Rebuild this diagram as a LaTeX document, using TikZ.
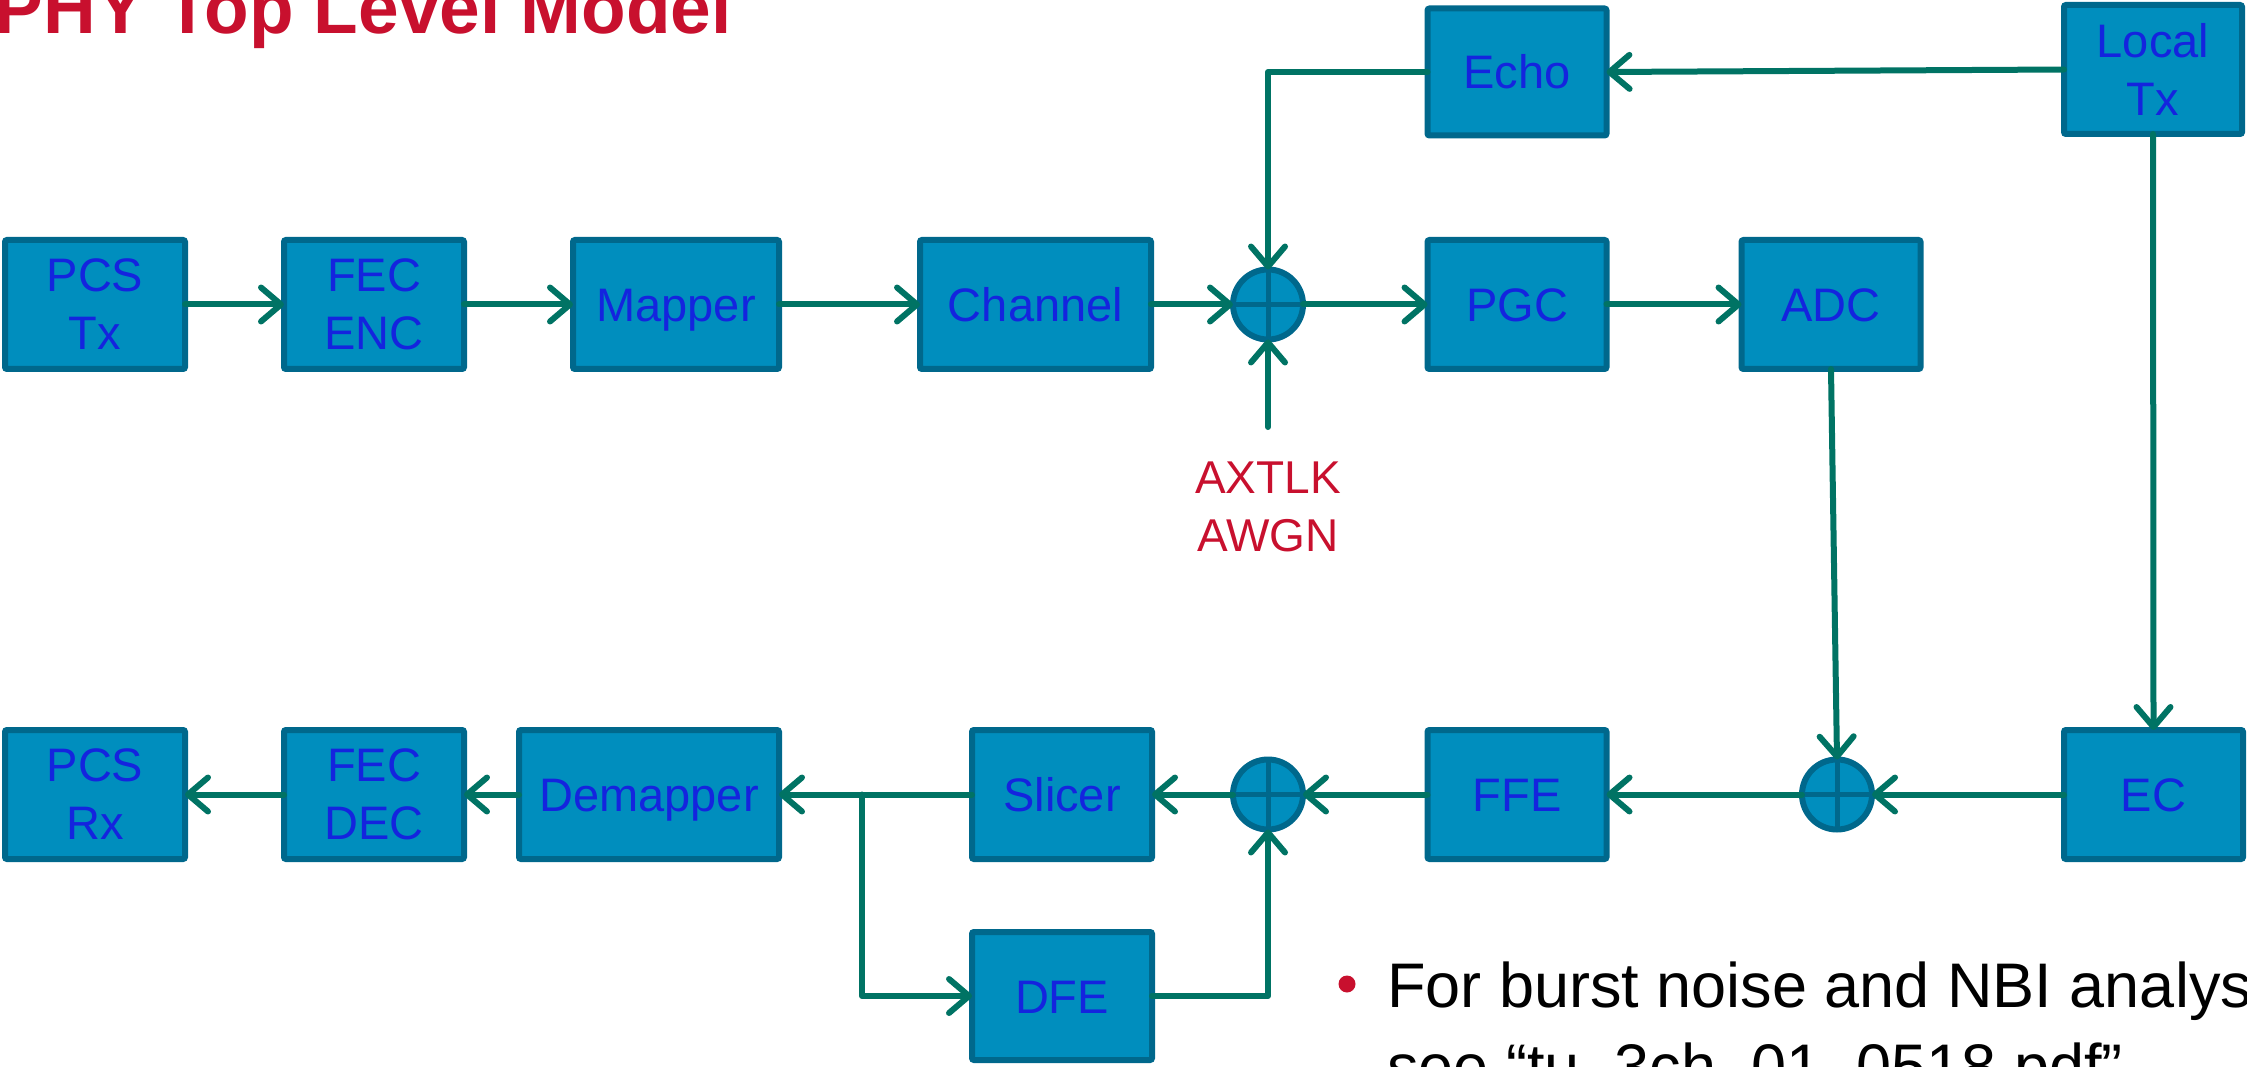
\documentclass[tikz,border=0pt]{standalone}
\usepackage{fontspec}
\setmainfont{Liberation Sans}
\usetikzlibrary{arrows.meta,calc}
\definecolor{boxfill}{RGB}{0,142,190}
\definecolor{boxdraw}{RGB}{0,104,140}
\definecolor{txtblue}{RGB}{20,36,222}
\definecolor{wirec}{RGB}{0,115,100}
\definecolor{redtxt}{RGB}{200,16,46}
\begin{document}
\begin{tikzpicture}[x=1pt,y=-1pt,
  blk/.style={draw=boxdraw, fill=boxfill, line width=6pt, rounded corners=2pt,
    text=txtblue, font=\fontsize{47}{58}\selectfont, align=center,
    inner sep=0pt, outer sep=0pt, minimum height=129pt},
  oneline/.style={text height=34pt, text depth=0pt},
  sumnode/.style={circle, draw=boxdraw, fill=boxfill, line width=6pt,
    minimum size=70pt, inner sep=0pt, outer sep=0pt},
  cross/.style={draw=boxdraw, line width=5pt},
  wire/.style={draw=wirec, line width=6pt, line cap=round, line join=round},
  arr/.style={wire, -{Straight Barb[length=20pt,width=34pt,round]}},
]
\useasboundingbox (0,0) rectangle (2247,1067);
\clip (0,0) rectangle (2247,1067);

% title
\node (title) [anchor=base east, inner sep=0pt, text=redtxt,
  font=\fontsize{73}{80}\selectfont\bfseries] at (732,34) {PHY Top Level Model};

% top row
\node (pcstx)  [blk, minimum width=180pt] at (95,304.5) {PCS\\Tx};
\node (fecenc) [blk, minimum width=180pt] at (374,304.5) {FEC\\ENC};
\node (mapper) [blk, oneline, minimum width=206pt] at (676,304.5) {Mapper};
\node (channel)[blk, oneline, minimum width=231pt] at (1035.5,304.5) {Channel};
\node (s1) [sumnode] at (1268,304.5) {};
\node (pgc) [blk, oneline, minimum width=179pt] at (1517,304.5) {PGC};
\node (adc) [blk, oneline, minimum width=179pt] at (1831,304.5) {ADC};
\node (echo) [blk, oneline, minimum width=179pt, minimum height=127pt] at (1517,72) {Echo};
\node (ltx) [blk, minimum width=178pt] at (2153,69.5) {Local\\Tx};

% noise label
\node (noise) [anchor=base, inner sep=0pt, text=redtxt, align=center,
  font=\fontsize{46}{58}\selectfont] at (1268,551) {AXTLK\\AWGN};
\coordinate (nz) at (1268,427);

% bottom row
\node (pcsrx)  [blk, minimum width=180pt] at (95,794.5) {PCS\\Rx};
\node (fecdec) [blk, minimum width=180pt] at (374,794.5) {FEC\\DEC};
\node (demap)  [blk, oneline, minimum width=260pt] at (649,794.5) {Demapper};
\node (slicer) [blk, oneline, minimum width=180pt] at (1062,794.5) {Slicer};
\node (dfe)    [blk, oneline, minimum width=180pt, minimum height=128pt] at (1062,996) {DFE};
\node (s2) [sumnode] at (1268,794.5) {};
\node (ffe) [blk, oneline, minimum width=179pt] at (1517,794.5) {FFE};
\node (s3) [sumnode] at (1837,794.5) {};
\node (ec) [blk, oneline, minimum width=179pt] at (2153.5,794.5) {EC};
\coordinate (br) at (862,794.5);

% crosses in summing junctions
\foreach \s in {s1,s2,s3}{
  \draw[cross] (\s.north) -- (\s.south) (\s.west) -- (\s.east);
}

% connectors, top row
\draw[arr] (pcstx) -- (fecenc);
\draw[arr] (fecenc) -- (mapper);
\draw[arr] (mapper) -- (channel);
\draw[arr] (channel) -- (s1);
\draw[arr] (s1) -- (pgc);
\draw[arr] (pgc) -- (adc);
\draw[arr] (ltx.west) -- (echo.east);
\draw[arr] (echo.west) -| (s1.north);
\draw[arr] (nz) -- (s1.south);
\draw[arr] (adc.south) -- (s3.north);
\draw[arr] (ltx.south) -- (ec.north);

% connectors, bottom row
\draw[arr] (ec) -- (s3);
\draw[arr] (s3) -- (ffe);
\draw[arr] (ffe) -- (s2);
\draw[arr] (s2) -- (slicer);
\draw[arr] (slicer) -- (demap);
\draw[arr] (br) |- (dfe.west);
\draw[arr] (dfe.east) -| (s2.south);
\draw[arr] (demap) -- (fecdec);
\draw[arr] (fecdec) -- (pcsrx);

% bullet text
\fill[redtxt] (1347,984) circle (8.5pt);
\node (note) [anchor=base west, inner sep=0pt, align=left,
  font=\fontsize{63}{81}\selectfont] at (1387,1088)
  {For burst noise and NBI analysis,\\see “tu\_3ch\_01\_0518.pdf”};
\end{tikzpicture}
\end{document}
